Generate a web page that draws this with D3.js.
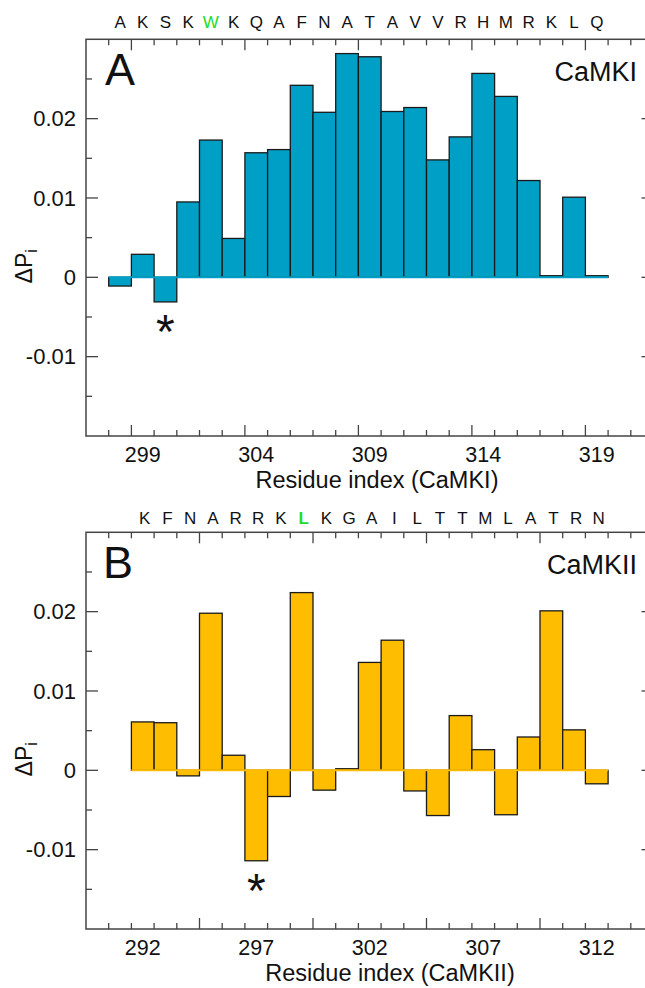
<!DOCTYPE html>
<html>
<head>
<meta charset="utf-8">
<script src="https://cdn.jsdelivr.net/npm/d3@7"></script>
<style>
  body { margin: 0; background: #fff; }
  svg text { font-family: "Liberation Sans", Arial, sans-serif; fill: #111; }
</style>
</head>
<body>
<svg width="645" height="988"></svg>
<script>
// panel A - CaMKI, residues 298..319
var residuesA = [298, 299, 300, 301, 302, 303, 304, 305, 306, 307, 308, 309, 310, 311, 312, 313, 314, 315, 316, 317, 318, 319];
var lettersA = ["A", "K", "S", "K", "W", "K", "Q", "A", "F", "N", "A", "T", "A", "V", "V", "R", "H", "M", "R", "K", "L", "Q"];
var valuesA = [-0.0011, 0.0029, -0.0031, 0.0095, 0.0173, 0.0049, 0.0157, 0.0161, 0.0242, 0.0208, 0.0282,
               0.0278, 0.0209, 0.0214, 0.0148, 0.0177, 0.0257, 0.0228, 0.0122, 0.0002, 0.0101, 0.0002];
var xTicksA = [299, 304, 309, 314, 319];

// panel B - CaMKII, residues 292..312
var residuesB = [292, 293, 294, 295, 296, 297, 298, 299, 300, 301, 302, 303, 304, 305, 306, 307, 308, 309, 310, 311, 312];
var lettersB = ["K", "F", "N", "A", "R", "R", "K", "L", "K", "G", "A", "I", "L", "T", "T", "M", "L", "A", "T", "R", "N"];
var valuesB = [0.0061, 0.0060, -0.0007, 0.0198, 0.0019, -0.0114, -0.0033, 0.0224, -0.0025, 0.0002, 0.0136,
               0.0164, -0.0026, -0.0057, 0.0069, 0.0026, -0.0056, 0.0042, 0.0201, 0.0051, -0.0017];
var xTicksB = [292, 297, 302, 307, 312];

var yTickLabels = [0.02, 0.01, 0, -0.01];

var svg = d3.select("svg");

drawPanel({
    residues: residuesA, letters: lettersA, values: valuesA, xTicks: xTicksA,
    green: 302, bold: false, star: 300, fill: "#00a0c6",
    x0: 296.5, majorAt: 298.5, top: 39.3, bottom: 436,
    tag: "A", tagX: 105, name: "CaMKI", title: "Residue index (CaMKI)", titleX: 377,
    letterY: 28, letterShift: 0
});

drawPanel({
    residues: residuesB, letters: lettersB, values: valuesB, xTicks: xTicksB,
    green: 299, bold: true, star: 297, fill: "#ffbd00",
    x0: 289.5, majorAt: 294.5, top: 532.3, bottom: 929,
    tag: "B", tagX: 103, name: "CaMKII", title: "Residue index (CaMKII)", titleX: 390,
    letterY: 524, letterShift: 2
});

function drawPanel(p) {
    var left = 86, right = 653.5;   // right edge of the frame falls just outside the picture
    var x = d3.scaleLinear().domain([p.x0, p.x0 + 25]).range([left, right]);
    var y = d3.scaleLinear().domain([-0.02, 0.03]).range([p.bottom, p.top]);
    var g = svg.append("g");
    var w = x(1) - x(0);

    // bars
    g.selectAll("rect.bar")
        .data(p.values)
        .enter().append("rect")
        .attr("class", "bar")
        .attr("x", function (d, i) { return x(p.residues[i] - 0.5); })
        .attr("width", w)
        .attr("y", function (d) { return y(Math.max(0, d)); })
        .attr("height", function (d) { return Math.abs(y(d) - y(0)); })
        .attr("fill", p.fill)
        .attr("stroke", "#1a1a1a")
        .attr("stroke-width", 1.3);

    // zero line in bar colour
    var first = p.residues[0], last = p.residues[p.residues.length - 1];
    g.append("line")
        .attr("x1", x(first - 0.5)).attr("x2", x(last + 0.5))
        .attr("y1", y(0)).attr("y2", y(0))
        .attr("stroke", p.fill).attr("stroke-width", 2);

    // frame
    g.append("rect")
        .attr("x", left).attr("y", p.top)
        .attr("width", right - left).attr("height", p.bottom - p.top)
        .attr("fill", "none").attr("stroke", "#444").attr("stroke-width", 1.5);

    // x ticks sit on the bar edges, top and bottom, pointing in
    d3.range(p.x0 + 1, p.x0 + 25, 1).forEach(function (e) {
        var major = Math.abs((((e - p.majorAt) % 5) + 5) % 5) < 1e-6;
        var len = major ? 11 : 6;
        g.append("line").attr("x1", x(e)).attr("x2", x(e))
            .attr("y1", p.bottom).attr("y2", p.bottom - len)
            .attr("stroke", "#444").attr("stroke-width", 1.3);
        g.append("line").attr("x1", x(e)).attr("x2", x(e))
            .attr("y1", p.top).attr("y2", p.top + len)
            .attr("stroke", "#444").attr("stroke-width", 1.3);
    });

    // y ticks left and right
    d3.range(-0.015, 0.03, 0.005).forEach(function (v) {
        var major = Math.abs(Math.round(v * 100) - v * 100) < 1e-6;
        var len = major ? 12 : 6;
        g.append("line").attr("x1", left).attr("x2", left + len)
            .attr("y1", y(v)).attr("y2", y(v))
            .attr("stroke", "#444").attr("stroke-width", 1.3);
        g.append("line").attr("x1", right).attr("x2", right - len)
            .attr("y1", y(v)).attr("y2", y(v))
            .attr("stroke", "#444").attr("stroke-width", 1.3);
    });

    // tick labels
    g.selectAll("text.ylab")
        .data(yTickLabels)
        .enter().append("text")
        .attr("x", 76).attr("y", function (d) { return y(d) + 7.8; })
        .attr("text-anchor", "end")
        .attr("font-size", 22)
        .text(function (d) { return d === 0 ? "0" : String(d); });

    g.selectAll("text.xlab")
        .data(p.xTicks)
        .enter().append("text")
        .attr("x", function (d) { return x(d); })
        .attr("y", p.bottom + 26)
        .attr("text-anchor", "middle")
        .attr("font-size", 21.5)
        .text(function (d) { return d; });

    // axis titles
    g.append("text")
        .attr("x", p.titleX).attr("y", p.bottom + 52)
        .attr("text-anchor", "middle").attr("font-size", 23.5)
        .text(p.title);

    var yl = g.append("text")
        .attr("transform", "translate(32," + (y(0) - 11) + ") rotate(-90)")
        .attr("text-anchor", "middle").attr("font-size", 23);
    yl.append("tspan").text("\u0394P");
    yl.append("tspan").attr("font-size", 16).attr("dy", 5).text("i");

    // sequence letters over the bars
    g.selectAll("text.seq")
        .data(p.letters)
        .enter().append("text")
        .attr("x", function (d, i) { return x(p.residues[i]) + p.letterShift; })
        .attr("y", p.letterY)
        .attr("text-anchor", "middle")
        .attr("font-size", 17)
        .attr("font-weight", function (d, i) { return p.bold && p.residues[i] === p.green ? "bold" : "normal"; })
        .style("fill", function (d, i) { return p.residues[i] === p.green ? "#22dd22" : "#111"; })
        .text(function (d) { return d; });

    // panel tag and protein name
    g.append("text").attr("x", p.tagX).attr("y", p.top + 46)
        .attr("font-size", 45).text(p.tag);
    g.append("text").attr("x", 637).attr("y", p.top + 42)
        .attr("text-anchor", "end").attr("font-size", 27).text(p.name);

    // asterisk under the marked residue
    var sv = p.values[p.residues.indexOf(p.star)];
    g.append("text")
        .attr("x", x(p.star)).attr("y", y(sv) + 46)
        .attr("text-anchor", "middle").attr("font-size", 48)
        .text("*");
}
</script>
</body>
</html>
